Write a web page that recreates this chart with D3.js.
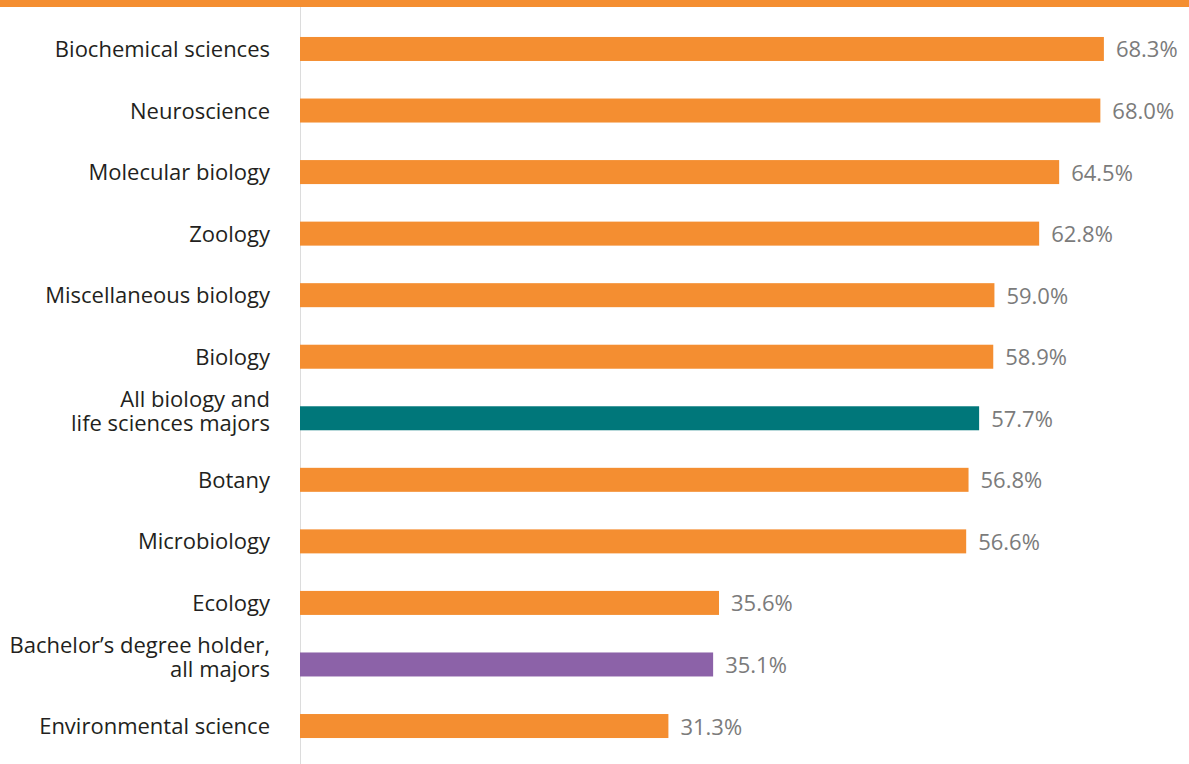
<!DOCTYPE html>
<html><head><meta charset="utf-8">
<script src="https://cdn.jsdelivr.net/npm/d3@7"></script>
<style>
html,body{margin:0;padding:0;background:#fff;}
svg{display:block;font-family:"Open Sans",sans-serif;}
</style></head>
<body>
<svg id="chart" width="1189" height="764"></svg>
<script>
const categories = [
  ["Biochemical sciences"],
  ["Neuroscience"],
  ["Molecular biology"],
  ["Zoology"],
  ["Miscellaneous biology"],
  ["Biology"],
  ["All biology and", "life sciences majors"],
  ["Botany"],
  ["Microbiology"],
  ["Ecology"],
  ["Bachelor’s degree holder,", "all majors"],
  ["Environmental science"]
];
const values = [68.3, 68.0, 64.5, 62.8, 59.0, 58.9, 57.7, 56.8, 56.6, 35.6, 35.1, 31.3];
const groups = ["field","field","field","field","field","field","all","field","field","field","bachelor","field"];
const colors = {field:"#F48E31", all:"#00777A", bachelor:"#8C62A8"};

const W = 1189, H = 764;
const svg = d3.select("#chart");
const keys = categories.map((c,i)=>i);

const x = d3.scaleLinear().domain([0,70]).range([300, 1123.9]);
const y = d3.scaleBand().domain(keys).range([18.2, 756.8]).paddingInner(0.61).paddingOuter(0.305);

// top rule
svg.append("rect").attr("x",0).attr("y",0).attr("width",W).attr("height",7).attr("fill",colors.field);

// axis line
svg.append("line").attr("x1",300.5).attr("x2",300.5).attr("y1",7).attr("y2",H)
  .attr("stroke","#dcdcdc").attr("stroke-width",1);

// bars
svg.selectAll("rect.bar").data(keys).join("rect").attr("class","bar")
  .attr("x", x(0)).attr("y", i=>y(i)).attr("height", y.bandwidth())
  .attr("width", i=>x(values[i])-x(0)).attr("fill", i=>colors[groups[i]]);

// value labels
svg.selectAll("text.val").data(keys).join("text").attr("class","val")
  .attr("x", i=>x(values[i])+12).attr("y", i=>y(i)+y.bandwidth()/2+8.5)
  .attr("fill","#7b7b7b").attr("font-size",22)
  .text(i=>values[i].toFixed(1)+"%");

// category labels
const lab = svg.selectAll("text.cat").data(keys).join("text").attr("class","cat")
  .attr("text-anchor","end").attr("fill","#231f20").attr("font-size",22);
lab.each(function(i){
  const t = d3.select(this);
  const c = y(i)+y.bandwidth()/2;
  const lines = categories[i];
  if(lines.length===1){
    t.append("tspan").attr("x",270).attr("y",c+8).text(lines[0]);
  } else {
    t.append("tspan").attr("x",270).attr("y",c-11.5).text(lines[0]);
    t.append("tspan").attr("x",270).attr("y",c+13).text(lines[1]);
  }
});
</script>
</body></html>
